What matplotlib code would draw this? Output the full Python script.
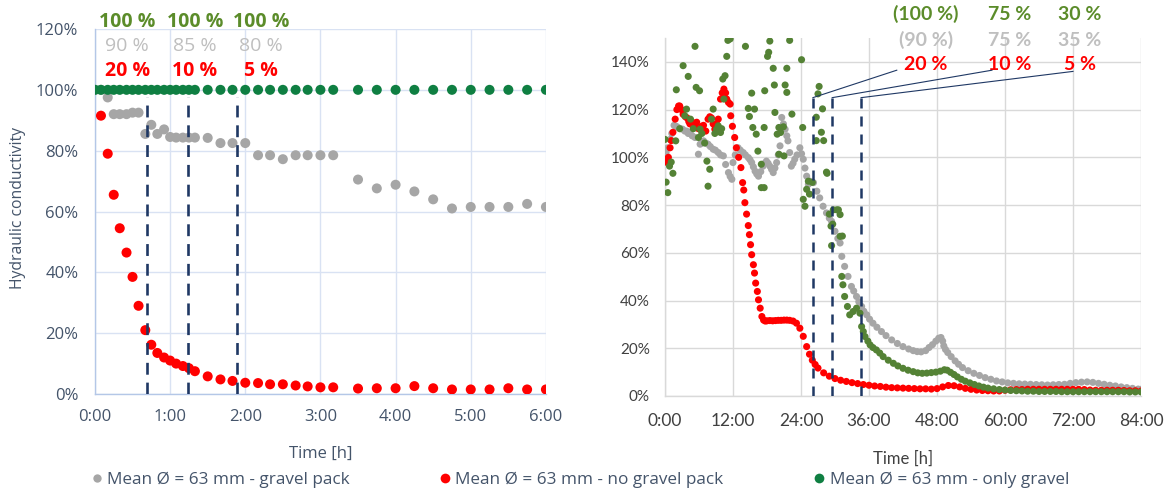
import matplotlib.pyplot as plt
from matplotlib.lines import Line2D

# ---------------- left panel: first 6 hours ----------------
left_ticks = [0, 1, 2, 3, 4, 5, 6]
left_tick_labels = ['0:00', '1:00', '2:00', '3:00', '4:00', '5:00', '6:00']
left_yticks = [0, 0.2, 0.4, 0.6, 0.8, 1.0, 1.2]

# gravel pack
gp_t = [0.0, 0.08, 0.17, 0.25, 0.33, 0.42, 0.5, 0.58, 0.67, 0.75, 0.83, 0.92,
        1.0, 1.08, 1.17, 1.25, 1.33, 1.5, 1.67, 1.83, 2.0, 2.17, 2.33, 2.5,
        2.67, 2.83, 3.0, 3.17, 3.5, 3.75, 4.0, 4.25, 4.5, 4.75, 5.0, 5.25,
        5.5, 5.75, 6.0]
gp_v = [1.0, 1.0, 0.975, 0.92, 0.92, 0.92, 0.925, 0.925, 0.855, 0.885, 0.855,
        0.87, 0.845, 0.843, 0.843, 0.843, 0.843, 0.842, 0.825, 0.825, 0.825,
        0.785, 0.785, 0.772, 0.785, 0.785, 0.785, 0.785, 0.705, 0.676, 0.688,
        0.666, 0.64, 0.61, 0.615, 0.615, 0.615, 0.625, 0.615]

# no gravel pack
ng_t = [0.08, 0.17, 0.25, 0.33, 0.42, 0.5, 0.58, 0.67, 0.75, 0.83, 0.92, 1.0,
        1.08, 1.17, 1.25, 1.33, 1.5, 1.67, 1.83, 2.0, 2.17, 2.33, 2.5, 2.67,
        2.83, 3.0, 3.17, 3.5, 3.75, 4.0, 4.25, 4.5, 4.75, 5.0, 5.25, 5.5,
        5.75, 6.0]
ng_v = [0.915, 0.79, 0.655, 0.545, 0.465, 0.385, 0.29, 0.21, 0.162, 0.135,
        0.12, 0.11, 0.10, 0.092, 0.085, 0.075, 0.058, 0.048, 0.043, 0.037,
        0.036, 0.032, 0.032, 0.028, 0.025, 0.022, 0.022, 0.018, 0.019, 0.019,
        0.026, 0.019, 0.015, 0.015, 0.015, 0.019, 0.015, 0.015]

# only gravel
og_t = [0.0, 0.08, 0.17, 0.25, 0.33, 0.42, 0.5, 0.58, 0.67, 0.75, 0.83, 0.92,
        1.0, 1.08, 1.17, 1.25, 1.33, 1.5, 1.67, 1.83, 2.0, 2.17, 2.33, 2.5,
        2.67, 2.83, 3.0, 3.17, 3.5, 3.75, 4.0, 4.25, 4.5, 4.75, 5.0, 5.25,
        5.5, 5.75, 6.0]
og_v = [1.0, 1.0, 1.0, 1.0, 1.0, 1.0, 1.0, 1.0, 1.0, 1.0, 1.0, 1.0, 1.0, 1.0,
        1.0, 1.0, 1.0, 1.0, 1.0, 1.0, 1.0, 1.0, 1.0, 1.0, 1.0, 1.0, 1.0, 1.0,
        1.0, 1.0, 1.0, 1.0, 1.0, 1.0, 1.0, 1.0, 1.0, 1.0, 1.0]

left_marks = [0.69, 1.24, 1.89]
left_lbl_x = [0.43, 1.33, 2.21]
left_og_lbl = ['100 %', '100 %', '100 %']
left_gp_lbl = ['90 %', '85 %', '80 %']
left_ng_lbl = ['20 %', '10 %', '5 %']

# ---------------- right panel: full 84 hours ----------------
right_ticks = [0, 12, 24, 36, 48, 60, 72, 84]
right_tick_labels = ['0:00', '12:00', '24:00', '36:00', '48:00', '60:00', '72:00', '84:00']
right_yticks = [0, 0.2, 0.4, 0.6, 0.8, 1.0, 1.2, 1.4]

gp2_t = [0.2, 0.5, 0.9, 1.2, 1.6, 2.0, 2.3, 2.7, 3.1, 3.5, 3.8, 4.1, 4.4, 4.8,
         5.3, 5.9, 6.2, 6.5, 6.8, 7.2, 7.6, 8.0, 8.5, 8.9, 9.4, 9.8, 10.3,
         10.7, 11.2, 11.5, 11.8, 12.0, 12.4, 12.9, 13.3, 13.8, 14.2, 14.7,
         15.0, 15.3, 15.6, 15.9, 16.2, 16.5, 16.9, 17.3, 17.6, 17.9, 18.2,
         18.5, 18.8, 19.1, 19.4, 19.7, 20.0, 20.3, 20.6, 20.9, 21.2, 21.5,
         21.7, 22.0, 22.3, 22.6, 22.9, 23.3, 23.8, 24.1, 24.4, 24.7, 25.0,
         25.3, 25.6, 26.2, 26.8, 27.3, 27.9, 28.5, 29.0, 29.4, 30.0, 30.5,
         30.9, 31.2, 31.7, 32.3, 32.9, 33.3, 33.8, 34.2, 34.7, 35.1, 35.6,
         36.1, 36.7, 37.4, 38.2, 39.0, 40.0, 41.0, 42.0, 43.0, 43.8, 44.5,
         45.2, 46.0, 46.6, 47.2, 47.8, 48.3, 48.7, 49.0, 49.2, 49.5, 49.9,
         50.5, 51.2, 51.8, 52.5, 53.5, 54.5, 55.5, 56.5, 57.5, 58.5, 59.5,
         60.5, 61.5, 62.5, 63.5, 64.5, 65.5, 66.5, 67.5, 68.5, 69.5, 70.5,
         71.5, 72.5, 73.5, 74.5, 75.5, 76.5, 77.5, 78.5, 79.5, 80.5, 81.5,
         82.5, 83.5, 84.0]
gp2_v = [1.02, 1.04, 1.075, 1.10, 1.134, 1.13, 1.125, 1.12, 1.118, 1.11,
         1.11, 1.10, 1.105, 1.09, 1.083, 1.013, 1.055, 1.06, 1.069, 1.06,
         1.055, 1.045, 1.034, 1.03, 1.02, 1.01, 1.006, 0.97, 0.936, 0.92,
         0.908, 0.978, 1.01, 1.04, 1.03, 1.02, 1.01, 0.999, 0.99, 0.978, 0.96,
         0.942, 0.93, 0.921, 0.94, 0.963, 0.975, 0.984, 0.975, 0.963, 0.95,
         0.936, 0.955, 0.978, 1.01, 1.048, 1.167, 1.14, 1.118, 1.09, 1.069,
         1.02, 0.963, 0.975, 0.992, 1.01, 1.04, 1.015, 0.992, 0.955, 0.921,
         0.887, 0.9, 0.894, 0.858, 0.83, 0.795, 0.767, 0.745, 0.732, 0.69,
         0.66, 0.641, 0.585, 0.543, 0.501, 0.459, 0.44, 0.417, 0.395, 0.375,
         0.355, 0.34, 0.322, 0.305, 0.288, 0.27, 0.253, 0.235, 0.22, 0.207,
         0.197, 0.19, 0.186, 0.185, 0.19, 0.203, 0.215, 0.23, 0.242, 0.245,
         0.23, 0.21, 0.195, 0.182, 0.165, 0.147, 0.133, 0.119, 0.106, 0.095,
         0.086, 0.077, 0.07, 0.063, 0.059, 0.055, 0.053, 0.051, 0.05, 0.049,
         0.048, 0.047, 0.046, 0.047, 0.048, 0.049, 0.053, 0.056, 0.058, 0.059,
         0.057, 0.053, 0.049, 0.045, 0.042, 0.038, 0.035, 0.032, 0.029, 0.028]

ng2_t = [0.1, 0.3, 0.6, 0.9, 1.1, 1.4, 1.8, 2.1, 2.4, 2.6, 2.9, 3.2, 3.6, 3.9,
         4.2, 4.4, 4.7, 5.0, 5.3, 5.6, 5.9, 6.2, 6.5, 6.8, 7.2, 7.6, 7.9, 8.2,
         8.5, 8.8, 9.1, 9.4, 9.8, 10.1, 10.4, 10.7, 10.9, 11.2, 11.5, 11.6,
         11.9, 12.3, 12.6, 13.0, 13.4, 13.7, 13.9, 14.1, 14.4, 14.7, 14.9,
         15.1, 15.3, 15.6, 15.8, 16.0, 16.3, 16.5, 16.8, 17.1, 17.4, 17.7,
         18.0, 18.5, 19.0, 19.5, 20.0, 20.5, 21.0, 21.5, 22.0, 22.6, 23.2,
         23.8, 24.4, 25.0, 25.5, 26.0, 26.5, 27.0, 28.0, 29.0, 30.0, 31.0,
         32.0, 33.0, 34.0, 35.0, 36.0, 37.0, 38.0, 39.0, 40.0, 41.0, 42.0,
         43.0, 44.0, 45.0, 46.0, 47.0, 48.0, 49.0, 50.0, 51.0, 52.0, 53.0,
         54.0, 55.0, 56.0, 57.0, 58.0, 59.0, 60.0, 61.0, 62.0, 63.0, 64.0,
         65.0, 66.0, 67.0, 68.0, 69.0, 70.0, 71.0, 72.0, 73.0, 74.0, 75.0,
         76.0, 77.0, 78.0, 79.0, 80.0, 81.0, 82.0, 83.0, 84.0]
ng2_v = [0.98, 0.99, 1.0, 1.04, 1.07, 1.105, 1.16, 1.2, 1.215, 1.215, 1.2,
         1.18, 1.17, 1.165, 1.15, 1.14, 1.15, 1.13, 1.14, 1.147, 1.12, 1.118,
         1.13, 1.134, 1.11, 1.16, 1.17, 1.165, 1.14, 1.118, 1.14, 1.16, 1.244,
         1.27, 1.286, 1.27, 1.244, 1.23, 1.223, 1.174, 1.13, 1.083, 1.04, 1.0,
         0.957, 0.894, 0.863, 0.81, 0.762, 0.714, 0.676, 0.634, 0.592, 0.55,
         0.515, 0.473, 0.438, 0.403, 0.368, 0.333, 0.318, 0.314, 0.315, 0.316,
         0.315, 0.316, 0.317, 0.317, 0.318, 0.318, 0.317, 0.314, 0.305, 0.284,
         0.25, 0.207, 0.175, 0.15, 0.132, 0.117, 0.097, 0.083, 0.073, 0.066,
         0.061, 0.056, 0.052, 0.048, 0.045, 0.042, 0.04, 0.037, 0.035, 0.034,
         0.033, 0.032, 0.031, 0.03, 0.03, 0.029, 0.031, 0.038, 0.044, 0.043,
         0.038, 0.032, 0.028, 0.025, 0.023, 0.022, 0.021, 0.021, 0.024, 0.026,
         0.027, 0.027, 0.028, 0.028, 0.028, 0.028, 0.028, 0.028, 0.028, 0.028,
         0.028, 0.028, 0.027, 0.025, 0.024, 0.024, 0.024, 0.024, 0.024, 0.023,
         0.022, 0.022, 0.021]

og2_t = [0.0, 0.2, 0.5, 0.8, 1.1, 1.4, 1.9, 2.0, 2.6, 3.2, 3.5, 3.8, 4.1,
         4.5, 5.0, 5.3, 5.5, 5.9, 6.1, 6.2, 6.5, 7.0, 7.4, 7.6, 7.9, 8.2, 8.5,
         8.8, 9.1, 9.4, 9.8, 10.0, 10.2, 10.4, 10.6, 10.9, 11.1, 11.5, 14.2,
         14.7, 14.9, 15.3, 15.5, 15.8, 16.1, 16.4, 17.0, 17.0, 17.5, 17.5,
         17.6, 18.1, 18.3, 18.5, 19.1, 19.3, 19.4, 19.8, 20.1, 20.1, 20.4,
         20.9, 21.0, 21.2, 21.5, 21.5, 22.0, 22.4, 24.1, 24.3, 24.4, 24.7,
         25.0, 25.3, 25.5, 26.0, 26.7, 26.7, 27.0, 27.2, 27.6, 27.8, 28.0,
         28.5, 28.6, 29.0, 29.3, 29.4, 29.6, 29.7, 30.3, 30.6, 30.9, 30.9,
         31.2, 31.3, 31.4, 31.7, 32.2, 32.6, 33.2, 33.8, 34.4, 34.7, 35.0,
         35.3, 35.8, 36.2, 36.7, 37.3, 37.9, 38.5, 39.4, 40.3, 41.1, 42.0,
         42.9, 43.8, 44.6, 45.4, 46.2, 47.0, 47.8, 48.6, 49.3, 49.8, 50.4,
         51.0, 51.6, 52.3, 53.0, 53.8, 54.6, 55.4, 56.2, 57.0, 58.0, 59.0,
         60.0, 61.0, 62.0, 63.0, 64.0, 65.0, 66.0, 67.0, 68.0, 69.0, 70.0,
         71.0, 72.0, 73.0, 74.0, 75.0, 76.0, 77.0, 78.0, 79.0, 80.0, 81.0,
         82.0, 83.0, 84.0]
og2_v = [1.075, 0.896, 0.852, 0.963, 0.98, 0.933, 1.069, 1.283, 1.12, 1.384,
         1.174, 1.202, 1.339, 1.16, 1.12, 1.465, 1.293, 1.083, 1.279, 1.118,
         1.10, 1.06, 0.984, 0.879, 0.95, 1.16, 1.202, 1.10, 1.118, 1.132,
         1.104, 1.12, 1.328, 1.244, 1.342, 1.423, 1.49, 1.496, 1.465, 1.205,
         1.171, 1.269, 1.125, 1.202, 1.097, 1.026, 0.971, 0.873, 0.873, 1.125,
         1.279, 1.423, 1.44, 1.487, 1.373, 1.303, 1.188, 1.097, 1.125, 1.013,
         1.104, 1.128, 1.006, 1.303, 1.272, 1.373, 1.49, 1.181, 1.409, 1.125,
         0.824, 0.795, 0.866, 0.9, 0.846, 0.895, 1.07, 1.168, 1.266, 1.297,
         1.105, 1.203, 1.07, 0.938, 0.933, 0.762, 0.712, 0.63, 0.72, 0.78,
         0.78, 0.78, 0.76, 0.669, 0.501, 0.67, 0.466, 0.417, 0.375, 0.34,
         0.354, 0.368, 0.347, 0.291, 0.27, 0.249, 0.23, 0.214, 0.203, 0.193,
         0.18, 0.165, 0.15, 0.137, 0.126, 0.116, 0.108, 0.102, 0.097, 0.095,
         0.096, 0.098, 0.10, 0.104, 0.11, 0.108, 0.099, 0.09, 0.08, 0.07,
         0.062, 0.055, 0.048, 0.042, 0.037, 0.033, 0.03, 0.027, 0.025, 0.023,
         0.022, 0.021, 0.02, 0.02, 0.019, 0.019, 0.019, 0.019, 0.018, 0.018,
         0.018, 0.018, 0.018, 0.018, 0.018, 0.018, 0.018, 0.018, 0.018, 0.018,
         0.017, 0.017, 0.017]

right_marks = [26.1, 29.5, 34.6]
right_lbl_x = [46.0, 60.8, 73.2]
right_og_lbl = ['(100 %)', '75 %', '30 %']
right_gp_lbl = ['(90 %)', '75 %', '35 %']
right_ng_lbl = ['20 %', '10 %', '5 %']
# where the leader lines meet the labels
leader_end_x = [40.9, 57.7, 72.0]
leader_end_y = [1.365, 1.365, 1.36]

legend_labels = ['Mean Ø = 63 mm - gravel pack',
                 'Mean Ø = 63 mm - no gravel pack',
                 'Mean Ø = 63 mm - only gravel']

GRAY = '#a6a6a6'
RED = '#ff0000'
GREEN_L = '#0f7f42'
GREEN_R = '#548235'
NAVY = '#1f3864'
TXT_GREEN = '#5b8c2a'
TXT_GRAY = '#bfbfbf'

fig = plt.figure(figsize=(11.65, 4.94), dpi=100)
fig.patch.set_facecolor('white')

# ---------- left ----------
ax1 = fig.add_axes([0.0815, 0.2024, 0.3871, 0.7389])
ax1.scatter(gp_t, gp_v, s=52, color=GRAY, edgecolors='none', zorder=3)
ax1.scatter(ng_t, ng_v, s=52, color=RED, edgecolors='none', zorder=4)
ax1.scatter(og_t, og_v, s=52, color=GREEN_L, edgecolors='none', zorder=5)
for xm in left_marks:
    ax1.plot([xm, xm], [0, 0.975], color=NAVY, lw=1.9, dashes=(4.5, 3.0), zorder=6)

ax1.set_xlim(0, 6)
ax1.set_ylim(0, 1.2)
ax1.set_xticks(left_ticks)
ax1.set_xticklabels(left_tick_labels)
ax1.set_yticks(left_yticks)
ax1.set_yticklabels(['%d%%' % round(v * 100) for v in left_yticks])
ax1.grid(True, color='#d9e2f3', lw=1.0, zorder=0)
ax1.set_axisbelow(True)
for side in ['top', 'right']:
    ax1.spines[side].set_visible(False)
for side in ['left', 'bottom']:
    ax1.spines[side].set_color('#b4c7e7')
    ax1.spines[side].set_linewidth(1.0)
ax1.tick_params(length=0, labelsize=12, labelcolor='#44546a')
ax1.tick_params(axis='x', pad=11)
ax1.tick_params(axis='y', pad=12)
for lb in ax1.get_xticklabels() + ax1.get_yticklabels():
    lb.set_family('Open Sans')
ax1.set_xlabel('Time [h]', fontsize=12, color='#44546a', family='Open Sans')
ax1.xaxis.set_label_coords(0.5, -0.142)
ax1.set_ylabel('Hydraulic conductivity', fontsize=11.3, color='#44546a', family='Open Sans')
ax1.yaxis.set_label_coords(-0.153, 0.51)

for x, a, b, c in zip(left_lbl_x, left_og_lbl, left_gp_lbl, left_ng_lbl):
    ax1.text(x, 1.223, a, color=TXT_GREEN, fontsize=14, fontweight='bold',
             family='Open Sans', ha='center', va='center', clip_on=False)
    ax1.text(x, 1.144, b, color=TXT_GRAY, fontsize=14,
             family='Open Sans', ha='center', va='center', clip_on=False)
    ax1.text(x, 1.062, c, color=RED, fontsize=14, fontweight='bold',
             family='Open Sans', ha='center', va='center', clip_on=False)

# ---------- right ----------
ax2 = fig.add_axes([0.5708, 0.1984, 0.4086, 0.7247])
ax2.scatter(gp2_t, gp2_v, s=26, color=GRAY, edgecolors='none', zorder=3)
ax2.scatter(ng2_t, ng2_v, s=26, color=RED, edgecolors='none', zorder=4)
ax2.scatter(og2_t, og2_v, s=26, color=GREEN_R, edgecolors='none', zorder=5)
for xm in right_marks:
    ax2.plot([xm, xm], [0, 1.25], color=NAVY, lw=1.8, dashes=(4.0, 3.2), zorder=6)
for xm, ex, ey in zip(right_marks, leader_end_x, leader_end_y):
    ax2.plot([xm, ex], [1.25, ey], color=NAVY, lw=0.8, zorder=6, clip_on=False)

ax2.set_xlim(0, 84)
ax2.set_ylim(0, 1.5)
ax2.set_xticks(right_ticks)
ax2.set_xticklabels(right_tick_labels)
ax2.set_yticks(right_yticks)
ax2.set_yticklabels(['%d%%' % round(v * 100) for v in right_yticks])
ax2.grid(True, color='#d9d9d9', lw=1.0, zorder=0)
ax2.set_axisbelow(True)
for side in ['top', 'right']:
    ax2.spines[side].set_visible(False)
for side in ['left', 'bottom']:
    ax2.spines[side].set_color('#d9d9d9')
    ax2.spines[side].set_linewidth(1.0)
ax2.tick_params(length=0, labelcolor='#404040')
ax2.tick_params(axis='x', pad=12, labelsize=12.5)
ax2.tick_params(axis='y', pad=11, labelsize=11)
for lb in ax2.get_xticklabels() + ax2.get_yticklabels():
    lb.set_family('Lato')
ax2.set_xlabel('Time [h]', fontsize=12, color='#404040', family='Lato')
ax2.xaxis.set_label_coords(0.5, -0.153)

for x, a, b, c in zip(right_lbl_x, right_og_lbl, right_gp_lbl, right_ng_lbl):
    ax2.text(x, 1.60, a, color=TXT_GREEN, fontsize=14, fontweight='bold',
             family='Lato', ha='center', va='center', clip_on=False)
    ax2.text(x, 1.49, b, color=TXT_GRAY, fontsize=14, fontweight='bold',
             family='Lato', ha='center', va='center', clip_on=False)
    ax2.text(x, 1.387, c, color=RED, fontsize=14, fontweight='bold',
             family='Lato', ha='center', va='center', clip_on=False)

# ---------- shared legend ----------
handles = [Line2D([], [], ls='none', marker='o', ms=6, color=GRAY, mec='none'),
           Line2D([], [], ls='none', marker='o', ms=7, color=RED, mec='none'),
           Line2D([], [], ls='none', marker='o', ms=7, color=GREEN_L, mec='none')]
fig.legend(handles, legend_labels, loc='center', bbox_to_anchor=(0.498, 0.028),
           ncol=3, frameon=False, handlelength=0.6, handletextpad=0.3,
           columnspacing=5.3, prop={'family': 'Open Sans', 'size': 12.3},
           labelcolor='#44546a')

fig.savefig('out.png', dpi=100, facecolor='white')
